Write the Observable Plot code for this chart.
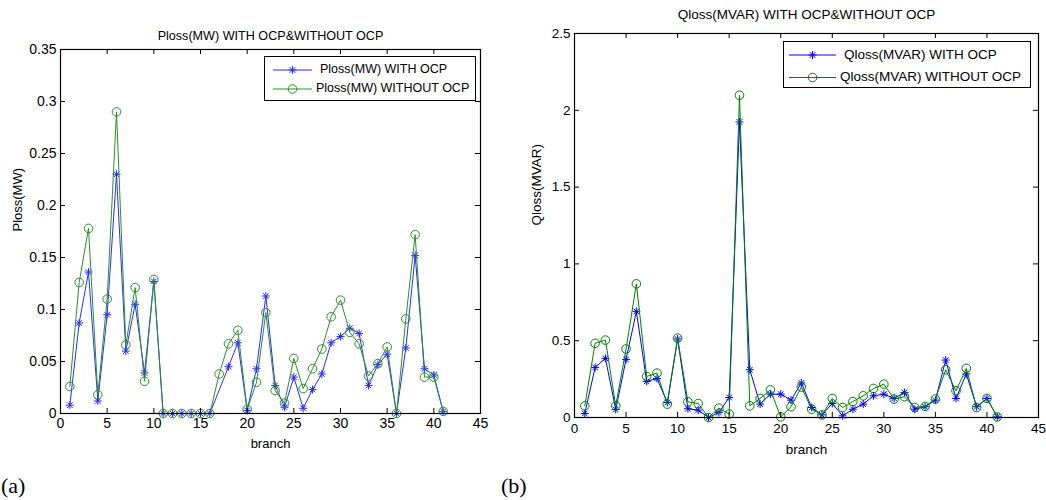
<!DOCTYPE html>
<html>
<head>
<meta charset="utf-8">
<script src="https://cdn.jsdelivr.net/npm/d3@7"></script>
<script src="https://cdn.jsdelivr.net/npm/@observablehq/plot@0.6"></script>
<style>
  html, body { margin: 0; padding: 0; background: #fff; }
  #wrap { position: relative; width: 1046px; height: 500px; overflow: hidden; font-family: "Liberation Sans", Arial, sans-serif; }
  .panel { position: absolute; top: 0; }
  .legend { position: absolute; border: 1px solid #000; background: #fff; box-sizing: border-box; }
  .legend .row { position: absolute; left: 0; white-space: nowrap; color: #000; }
  .legend svg { position: absolute; }
  .cap { position: absolute; font-family: "Liberation Serif", "Times New Roman", serif; font-size: 22px; color: #000; }
</style>
</head>
<body>
<div id="wrap"></div>
<script>
// ---------- data ----------
const branch = [1,2,3,4,5,6,7,8,9,10,11,12,13,14,15,16,17,18,19,20,21,22,23,24,25,26,27,28,29,30,31,32,33,34,35,36,37,38,39,40,41];

const plossWithOCP = [0.008,0.087,0.136,0.012,0.095,0.230,0.060,0.105,0.039,0.127,
  0,0,0,0,0,0,null,0.045,0.068,0.003,0.043,0.113,0.027,0.006,0.035,0.005,0.023,0.038,
  0.068,0.074,0.082,0.077,0.027,0.047,0.057,0,0.063,0.152,0.043,0.037,0.002];

const plossWithoutOCP = [0.026,0.126,0.178,0.018,0.110,0.290,0.066,0.121,0.031,0.129,
  0,0,0,0,0,0,0.038,0.067,0.080,0.004,0.030,0.097,0.022,0.010,0.053,0.024,0.043,0.062,
  0.093,0.109,0.078,0.067,0.036,0.048,0.064,0,0.091,0.172,0.035,0.035,0.002];

const qlossWithOCP = [0.026,0.326,0.385,0.052,0.378,0.691,0.235,0.254,0.098,0.511,
  0.057,0.048,0.000,0.033,0.130,1.924,0.311,0.087,0.152,0.152,0.113,0.225,0.065,0.017,
  0.091,0.011,0.054,0.087,0.141,0.152,0.124,0.163,0.054,0.070,0.113,0.374,0.124,0.283,
  0.070,0.124,0.004];

const qlossWithoutOCP = [0.076,0.483,0.504,0.076,0.446,0.870,0.267,0.289,0.087,0.517,
  0.102,0.091,0.000,0.061,0.022,2.098,0.076,0.124,0.180,0.004,0.070,0.198,0.054,0.017,
  0.124,0.065,0.104,0.141,0.189,0.217,0.120,0.135,0.065,0.072,0.120,0.311,0.174,0.320,
  0.065,0.124,0.004];

const xTicks = [0,5,10,15,20,25,30,35,40,45];
const pTicks = [0,0.05,0.1,0.15,0.2,0.25,0.3,0.35];
const qTicks = [0,0.5,1,1.5,2,2.5];

const pTitle = "Ploss(MW) WITH OCP&WITHOUT OCP";
const qTitle = "Qloss(MVAR) WITH OCP&WITHOUT OCP";
const pLegend = ["Ploss(MW) WITH OCP", "Ploss(MW) WITHOUT OCP"];
const qLegend = ["Qloss(MVAR) WITH OCP", "Qloss(MVAR) WITHOUT OCP"];
const xLabel = "branch";
const pYLabel = "Ploss(MW)";
const qYLabel = "Qloss(MVAR)";

// ---------- helpers ----------
const star = {
  draw(ctx, size) {
    const r = Math.sqrt(size / Math.PI);
    const d = r * 0.7071;
    ctx.moveTo(-r, 0); ctx.lineTo(r, 0);
    ctx.moveTo(0, -r); ctx.lineTo(0, r);
    ctx.moveTo(-d, -d); ctx.lineTo(d, d);
    ctx.moveTo(-d, d); ctx.lineTo(d, -d);
  }
};

function series(vals) {
  return branch.map((b, i) => ({b, v: vals[i]})).filter(d => d.v != null);
}
const fmt = d => String(+d.toFixed(2));
const labelFont = "Liberation Sans, Arial, sans-serif";

function panel(o) {
  const innerH = o.height - o.mt - o.mb;
  const innerW = o.width - o.ml - o.mr;
  const withD = series(o.withV), withoutD = series(o.withoutV);
  return Plot.plot({
    width: o.width, height: o.height,
    marginLeft: o.ml, marginRight: o.mr, marginTop: o.mt, marginBottom: o.mb,
    style: {fontFamily: o.tickFont, fontSize: o.tickSize + "px", color: "#000", background: "#fff", overflow: "visible"},
    x: {domain: [0, 45]},
    y: {domain: o.ydomain},
    marks: [
      Plot.line(withD, {x: "b", y: "v", stroke: o.blue, strokeWidth: 1}),
      Plot.dot(withD, {x: "b", y: "v", symbol: star, r: 4, stroke: o.blue, strokeWidth: 1, fill: "none"}),
      Plot.line(withoutD, {x: "b", y: "v", stroke: o.green, strokeWidth: 1}),
      Plot.dot(withoutD, {x: "b", y: "v", symbol: "circle", r: 4.3, stroke: o.green, strokeWidth: 1, fill: "none"}),
      // inward ticks on all four sides
      Plot.tickX(xTicks, {x: d => d, insetTop: innerH - 5, stroke: "#000"}),
      Plot.tickX(xTicks, {x: d => d, insetBottom: innerH - 5, stroke: "#000"}),
      Plot.tickY(o.yTicks, {y: d => d, insetRight: innerW - 5, stroke: "#000"}),
      Plot.tickY(o.yTicks, {y: d => d, insetLeft: innerW - 5, stroke: "#000"}),
      Plot.frame({stroke: "#000", strokeWidth: 1.2}),
      Plot.axisX({ticks: xTicks, tickSize: 0, tickPadding: o.xPad, tickFormat: fmt, label: null}),
      Plot.axisY({ticks: o.yTicks, tickSize: 0, tickPadding: 4, tickFormat: fmt, label: null}),
      Plot.text([o.ylabel], {frameAnchor: "left", dx: -o.ylabelOffset, rotate: -90, text: d => d,
                  fontFamily: labelFont, fontSize: o.labelSize}),
      Plot.text([xLabel], {frameAnchor: "bottom", dy: o.xLabelDy, text: d => d, lineAnchor: "middle",
                  fontFamily: labelFont, fontSize: o.labelSize}),
      Plot.text([o.title], {frameAnchor: "top", dy: o.titleDy, text: d => d, lineAnchor: "middle",
                  fontFamily: labelFont, fontSize: o.titleSize})
    ]
  });
}

function legend(parent, o) {
  const div = document.createElement("div");
  div.className = "legend";
  Object.assign(div.style, {left: o.x + "px", top: o.y + "px", width: o.w + "px", height: o.h + "px"});
  const ns = "http://www.w3.org/2000/svg";
  const svg = document.createElementNS(ns, "svg");
  svg.setAttribute("width", o.w); svg.setAttribute("height", o.h);
  svg.style.left = "0px"; svg.style.top = "0px";
  const specs = [{c: o.blue, m: "star"}, {c: o.green, m: "circle"}];
  specs.forEach((s, i) => {
    const y = o.rows[i];
    const ln = document.createElementNS(ns, "line");
    ln.setAttribute("x1", o.lx1); ln.setAttribute("x2", o.lx2);
    ln.setAttribute("y1", y); ln.setAttribute("y2", y);
    ln.setAttribute("stroke", s.c); ln.setAttribute("stroke-width", 1);
    svg.appendChild(ln);
    const mx = (o.lx1 + o.lx2) / 2;
    const p = document.createElementNS(ns, "path");
    if (s.m === "star") {
      const path = d3.path(); star.draw(path, Math.PI * 16);
      p.setAttribute("d", path.toString());
    } else {
      p.setAttribute("d", d3.symbol(d3.symbolCircle, Math.PI * 4.3 * 4.3)());
    }
    p.setAttribute("transform", `translate(${mx},${y})`);
    p.setAttribute("stroke", s.c); p.setAttribute("fill", "none");
    svg.appendChild(p);
    const t = document.createElement("div");
    t.className = "row";
    t.textContent = o.labels[i];
    Object.assign(t.style, {left: o.tx[i] + "px", top: (y - o.fs * 0.62) + "px", fontSize: o.fs + "px", lineHeight: (o.fs * 1.2) + "px"});
    div.appendChild(t);
  });
  div.insertBefore(svg, div.firstChild);
  parent.appendChild(div);
}

const wrap = document.getElementById("wrap");

// left panel (a)
const left = panel({
  width: 520, height: 460, ml: 60, mr: 40, mt: 49, mb: 47,
  ydomain: [0, 0.35], yTicks: pTicks, withV: plossWithOCP, withoutV: plossWithoutOCP,
  blue: "#2b2bff", green: "#2a8f2a",
  tickFont: "Liberation Sans Narrow, Arial Narrow, Liberation Sans, sans-serif", tickSize: 14, xPad: 5,
  ylabel: pYLabel, ylabelOffset: 43, labelSize: 13,
  xLabelDy: 30, title: pTitle, titleDy: -14, titleSize: 12.6
});
const lp = document.createElement("div"); lp.className = "panel"; lp.style.left = "0px";
lp.appendChild(left); wrap.appendChild(lp);

// right panel (b)
const right = panel({
  width: 526, height: 460, ml: 54, mr: 8, mt: 33, mb: 43,
  ydomain: [0, 2.5], yTicks: qTicks, withV: qlossWithOCP, withoutV: qlossWithoutOCP,
  blue: "#0000ff", green: "#008000",
  tickFont: "Liberation Sans, Arial, sans-serif", tickSize: 13.5, xPad: 6,
  ylabel: qYLabel, ylabelOffset: 38, labelSize: 13.5,
  xLabelDy: 32, title: qTitle, titleDy: -19, titleSize: 13.5
});
const rp = document.createElement("div"); rp.className = "panel"; rp.style.left = "520px";
rp.appendChild(right); wrap.appendChild(rp);

// legends
legend(wrap, {x: 264, y: 56, w: 212, h: 45, rows: [13, 32], lx1: 8, lx2: 47, tx: [55, 51],
  labels: pLegend, fs: 12.5, blue: "#2b2bff", green: "#2a8f2a"});
legend(wrap, {x: 783, y: 41, w: 248, h: 47, rows: [13, 35.5], lx1: 5, lx2: 52, tx: [60, 56],
  labels: qLegend, fs: 13.5, blue: "#0000ff", green: "#008000"});

// panel captions
const ca = document.createElement("div"); ca.className = "cap"; ca.textContent = "(a)";
Object.assign(ca.style, {left: "1px", top: "473px"}); wrap.appendChild(ca);
const cb = document.createElement("div"); cb.className = "cap"; cb.textContent = "(b)";
Object.assign(cb.style, {left: "501px", top: "473px"}); wrap.appendChild(cb);
</script>
</body>
</html>
